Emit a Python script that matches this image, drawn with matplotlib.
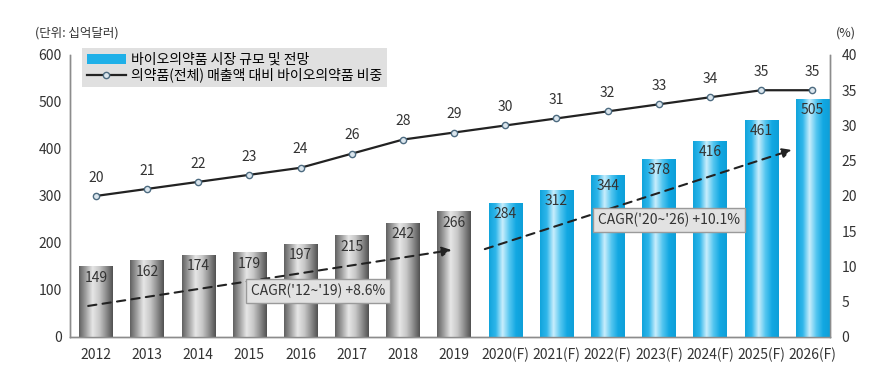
import numpy as np
import matplotlib
matplotlib.use("Agg")
import matplotlib.pyplot as plt
from matplotlib.colors import LinearSegmentedColormap
from matplotlib.patches import Rectangle
from matplotlib.lines import Line2D

plt.rcParams['font.family'] = ['Noto Sans CJK KR', 'DejaVu Sans']

years = ["2012", "2013", "2014", "2015", "2016", "2017", "2018", "2019",
         "2020(F)", "2021(F)", "2022(F)", "2023(F)", "2024(F)", "2025(F)", "2026(F)"]
market = [149, 162, 174, 179, 197, 215, 242, 266, 284, 312, 344, 378, 416, 461, 505]
share = [20, 21, 22, 23, 24, 26, 28, 29, 30, 31, 32, 33, 34, 35, 35]
n_actual = 8  # 2012-2019 are actual (grey), rest forecast (blue)
left_ticks = [0, 100, 200, 300, 400, 500, 600]
right_ticks = [0, 5, 10, 15, 20, 25, 30, 35, 40]

legend_bar = "바이오의약품 시장 규모 및 전망"
legend_line = "의약품(전체) 매출액 대비 바이오의약품 비중"
cagr1 = "CAGR('12~'19) +8.6%"
cagr2 = "CAGR('20~'26) +10.1%"

grey_cmap = LinearSegmentedColormap.from_list(
    "grey_cyl", ["#606060", "#a0a0a0", "#e6e6e6", "#c8c8c8", "#8e8e8e", "#505050"])
blue_cmap = LinearSegmentedColormap.from_list(
    "blue_cyl", ["#10a4dc", "#2fb6ea", "#c9eefc", "#55c6f0", "#12a8e2", "#0e9fd8"])

fig = plt.figure(figsize=(8.89, 3.74), dpi=100)
ax = fig.add_axes([0.079, 0.099, 0.855, 0.754])
ax2 = ax.twinx()

x = np.arange(len(years))
width = 0.65
bars = ax.bar(x, market, width=width, color="none", edgecolor="none", zorder=2)
grad = np.linspace(0, 1, 256).reshape(1, -1)
for i, b in enumerate(bars):
    cmap = grey_cmap if i < n_actual else blue_cmap
    x0, y0 = b.get_x(), b.get_y()
    ax.imshow(grad, cmap=cmap, aspect="auto", zorder=2,
              extent=[x0, x0 + b.get_width(), y0, y0 + b.get_height()])
    ax.text(b.get_x() + b.get_width() / 2, b.get_height() - 8, str(market[i]),
            ha="center", va="top", fontsize=10, color="#333333", zorder=4)

ax.set_xlim(-0.5, len(years) - 0.65)
ax.set_ylim(0, 600)
ax.set_yticks(left_ticks)
ax.set_xticks(x)
ax.set_xticklabels(years)
ax.tick_params(axis="both", length=0, labelsize=10, colors="#333333", pad=6)
ax.tick_params(axis="x", pad=8)

for a in (ax, ax2):
    a.spines["top"].set_visible(False)
    for s in ["left", "right", "bottom"]:
        a.spines[s].set_color("#8c8c8c")
        a.spines[s].set_linewidth(1.0)

# share line on right axis
ax2.plot(x, share, color="#222222", lw=1.6, marker="o", ms=4.5,
         mfc="#dbe6ee", mec="#4d6b80", mew=1.0, zorder=5)
for xi, v in zip(x, share):
    ax2.text(xi, v + 1.6, str(v), ha="center", va="bottom", fontsize=10, color="#333333")
ax2.set_ylim(0, 40)
ax2.set_yticks(right_ticks)
ax2.tick_params(axis="y", length=0, labelsize=10, colors="#333333", pad=8)
ax.set_zorder(ax2.get_zorder() + 1)
ax.patch.set_visible(False)

# CAGR trend arrows
ax.annotate("", xy=(6.95, 185), xytext=(-0.15, 66),
            arrowprops=dict(arrowstyle="-|>", ls=(0, (4, 3)), lw=1.5, color="#222222",
                            mutation_scale=14, shrinkA=0, shrinkB=0), zorder=6)
ax.annotate("", xy=(13.6, 398), xytext=(7.6, 187),
            arrowprops=dict(arrowstyle="-|>", ls=(0, (4, 3)), lw=1.5, color="#222222",
                            mutation_scale=14, shrinkA=0, shrinkB=0), zorder=6)
box = dict(boxstyle="square,pad=0.35", fc="#e2e2e2", ec="#9a9a9a", lw=1.0)
ax.text(4.35, 98, cagr1, ha="center", va="center", fontsize=10, color="#333333",
        bbox=box, zorder=7)
ax.text(11.2, 249, cagr2, ha="center", va="center", fontsize=10, color="#333333",
        bbox=box, zorder=7)

# legend
h_bar = Rectangle((0, 0), 1, 1, fc="#1fb0e8", ec="none")
h_line = Line2D([], [], color="#222222", lw=1.6, marker="o", ms=4.5,
                mfc="#dbe6ee", mec="#4d6b80")
leg = ax.legend([h_bar, h_line], [legend_bar, legend_line], loc="upper left",
                bbox_to_anchor=(82 / 889, 1 - 48 / 374), bbox_transform=fig.transFigure,
                frameon=True, fontsize=10, fancybox=False,
                handlelength=2.8, handleheight=0.7, labelspacing=0.05,
                borderpad=0.35, handletextpad=0.4, borderaxespad=0)
leg.get_frame().set_facecolor("#e0e0e0")
leg.get_frame().set_edgecolor("none")
leg.get_frame().set_alpha(1)

fig.text(35 / 889, 1 - 33 / 374, "(단위: 십억달러)", fontsize=9, color="#333333",
         ha="left", va="center")
fig.text(846 / 889, 1 - 33 / 374, "(%)", fontsize=9, color="#333333",
         ha="center", va="center")

fig.savefig("out.png", dpi=100)
